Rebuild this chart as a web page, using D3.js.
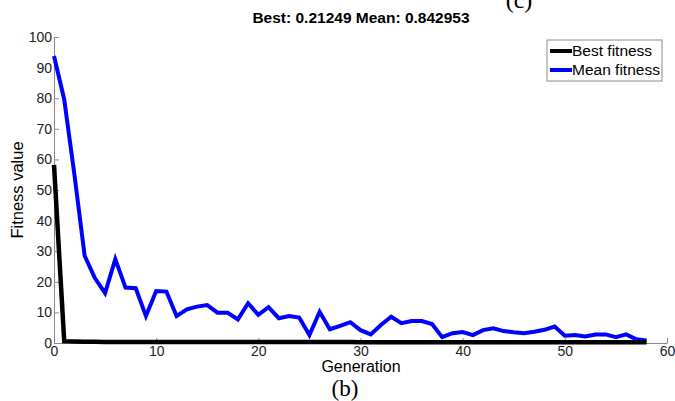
<!DOCTYPE html>
<html>
<head>
<meta charset="utf-8">
<script src="https://cdn.jsdelivr.net/npm/d3@7"></script>
<style>
  body { margin: 0; background: #fff; }
  svg { display: block; font-family: Arial, "Liberation Sans", sans-serif; }
  .axis .domain { stroke: #8a8a8a; }
  .axis line { stroke: #8a8a8a; }
  .axis text { fill: #222; font-size: 14px; font-family: Arial, "Liberation Sans", sans-serif; }
</style>
</head>
<body>
<svg id="chart"></svg>
<script>
// values
const generations = d3.range(0, 59);
const meanFitness = [
  93.8, 79.6, 55, 28.5, 21.2, 16.3, 27.4, 18.1, 17.9, 8.8,
  17, 16.8, 8.8, 11, 11.9, 12.4, 9.9, 9.9, 7.7, 13,
  9.2, 11.7, 8.1, 8.8, 8.3, 2.6, 10.2, 4.5, 5.6, 6.8,
  4.2, 2.8, 5.9, 8.6, 6.5, 7.2, 7.2, 6.2, 1.9, 3.2,
  3.6, 2.6, 4.2, 4.8, 3.9, 3.5, 3.2, 3.7, 4.3, 5.4,
  2.4, 2.6, 2.1, 2.8, 2.8, 1.9, 2.8, 1.2, 0.84
];
const bestFitness = [
  58.2, 0.6, 0.5, 0.4, 0.4, 0.35, 0.35, 0.3, 0.3, 0.3,
  0.3, 0.3, 0.3, 0.3, 0.3, 0.3, 0.3, 0.3, 0.3, 0.3,
  0.3, 0.3, 0.3, 0.3, 0.3, 0.3, 0.3, 0.3, 0.3, 0.3,
  0.25, 0.25, 0.25, 0.25, 0.25, 0.25, 0.25, 0.25, 0.25, 0.25,
  0.25, 0.25, 0.25, 0.25, 0.25, 0.22, 0.22, 0.22, 0.22, 0.22,
  0.22, 0.22, 0.22, 0.22, 0.21, 0.21, 0.21, 0.21, 0.21
];
const xTicks = [0, 10, 20, 30, 40, 50, 60];
const yTicks = [0, 10, 20, 30, 40, 50, 60, 70, 80, 90, 100];
const seriesNames = ["Best fitness", "Mean fitness"];
const seriesColors = ["#000000", "#0000ff"];

const width = 675, height = 401;
const svg = d3.select("#chart").attr("width", width).attr("height", height);

const x = d3.scaleLinear().domain([0, 60]).range([54, 667]);
const y = d3.scaleLinear().domain([0, 100]).range([343, 37]);

const serif = "'Liberation Serif', 'Times New Roman', serif";

// caption of the neighbouring panel, cropped at the top edge in the reference
svg.append("text")
  .attr("x", 519).attr("y", 8)
  .attr("text-anchor", "middle")
  .style("font-family", serif)
  .style("font-size", "24px")
  .text("(c)");

// title
svg.append("text")
  .attr("x", 361).attr("y", 23)
  .attr("text-anchor", "middle")
  .style("font-size", "15.5px")
  .style("font-weight", "bold")
  .text("Best: 0.21249 Mean: 0.842953");

// axes (ticks pointing inward)
svg.append("g")
  .attr("class", "axis")
  .attr("transform", `translate(0,${y(0)})`)
  .call(d3.axisBottom(x).tickValues(xTicks).tickSizeInner(-5).tickSizeOuter(0).tickPadding(3));

svg.append("g")
  .attr("class", "axis")
  .attr("transform", `translate(${x(0)},0)`)
  .call(d3.axisLeft(y).tickValues(yTicks).tickSizeInner(-5).tickSizeOuter(0).tickPadding(2));

// lines
const line = d3.line()
  .x((d, i) => x(generations[i]))
  .y(d => y(d));

svg.append("path")
  .datum(meanFitness)
  .attr("fill", "none")
  .attr("stroke", seriesColors[1])
  .attr("stroke-width", 4)
  .attr("d", line);

svg.append("path")
  .datum(bestFitness)
  .attr("fill", "none")
  .attr("stroke", seriesColors[0])
  .attr("stroke-width", 4.5)
  .attr("d", line);

// axis labels
svg.append("text")
  .attr("x", 361).attr("y", 372)
  .attr("text-anchor", "middle")
  .style("font-size", "16px")
  .text("Generation");

svg.append("text")
  .attr("transform", `translate(23,190) rotate(-90)`)
  .attr("text-anchor", "middle")
  .style("font-size", "16.5px")
  .text("Fitness value");

svg.append("text")
  .attr("x", 345).attr("y", 396)
  .attr("text-anchor", "middle")
  .style("font-family", serif)
  .style("font-size", "23px")
  .text("(b)");

// legend
const legend = svg.append("g").attr("transform", "translate(547,40)");
legend.append("rect")
  .attr("width", 115).attr("height", 41)
  .attr("fill", "#fff")
  .attr("stroke", "#8a8a8a");
seriesNames.forEach((name, i) => {
  const ly = 11 + i * 19;
  legend.append("line")
    .attr("x1", 3).attr("x2", 25)
    .attr("y1", ly).attr("y2", ly)
    .attr("stroke", seriesColors[i])
    .attr("stroke-width", 4);
  legend.append("text")
    .attr("x", 25).attr("y", ly + 5)
    .style("font-size", "15.5px")
    .text(name);
});
</script>
</body>
</html>
